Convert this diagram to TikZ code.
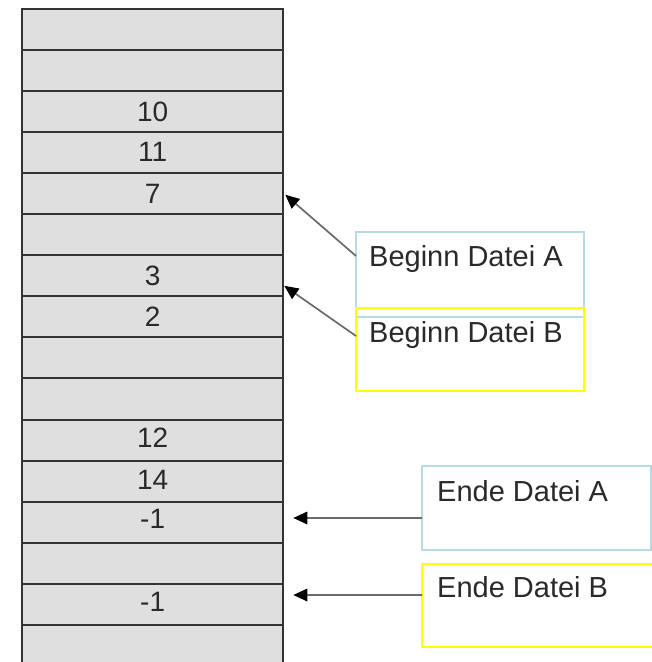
\documentclass[tikz,border=0pt]{standalone}
\usepackage{fontspec}
\setmainfont{Liberation Sans}
\usetikzlibrary{arrows.meta}
\definecolor{cellfill}{HTML}{DFDFDF}
\definecolor{cellline}{HTML}{333333}
\definecolor{boxcyan}{HTML}{B4DCE4}
\definecolor{boxyellow}{HTML}{FFFF00}
\definecolor{txt}{HTML}{2A2A2A}
\definecolor{arr}{HTML}{6A6A6A}
\begin{document}
\begin{tikzpicture}[x=1pt,y=-1pt,
  cell/.style={draw=cellline, fill=cellfill, line width=2pt, minimum width=261.3pt, minimum height=41.05pt, inner sep=0pt, outer sep=0pt, anchor=north west, text=txt, font=\fontsize{28}{30}\selectfont},
  infobox/.style={draw=#1, line width=2pt, inner sep=0pt, outer sep=0pt, anchor=north west},
  infotext/.style={anchor=base west, inner sep=0pt, text=txt, font=\fontsize{29}{32}\selectfont},
  pointer/.style={draw=arr, line width=1.7pt, -{Triangle[length=14pt,width=12.5pt,fill=black,color=black]}},
]
\useasboundingbox (0,0) rectangle (652,662);
\clip (0,0) rectangle (652,662);
\fill[white] (0,0) rectangle (652,662);
\foreach \i/\t/\dy in {0//0,1//0,2/10/1.2,3/11/-1.5,4/7/-0.2,5//0,6/3/1.5,7/2/2.8,8//0,9//0,10/12/-4,11/14/-3.3,12/-1/-6.2,13//0,14/-1/-5.5,15//0}
  \node[cell] (c\i) at (22, 9+41.05*\i) {\raisebox{-\dy pt}{\t}};
\node[infobox=boxcyan, minimum width=228pt, minimum height=85pt] (bA) at (356,232) {};
\node[infobox=boxyellow, minimum width=228pt, minimum height=83pt] (bB) at (356,308) {};
\node[infobox=boxcyan, minimum width=229pt, minimum height=84pt] (eA) at (422,466) {};
\node[infobox=boxyellow, minimum width=240pt, minimum height=83pt] (eB) at (422,564) {};
\node[infotext] (tA) at (369,266.4) {Beginn Datei A};
\node[infotext] (tB) at (369,342.1) {Beginn Datei B};
\node[infotext] (tEA) at (437,501) {Ende Datei A};
\node[infotext] (tEB) at (437,597) {Ende Datei B};
\coordinate (sA) at ([yshift=-24pt]bA.north west);
\coordinate (sB) at ([yshift=-28pt]bB.north west);
\coordinate (sEA) at ([yshift=-52pt]eA.north west);
\coordinate (sEB) at ([yshift=-31pt]eB.north west);
\draw[pointer] (sA) -- ([shift={(2,1)}]c4.east);
\draw[pointer] (sB) -- ([shift={(1,10)}]c6.east);
\draw[pointer] (sEA) -- ([xshift=10pt]c12.east |- sEA);
\draw[pointer] (sEB) -- ([xshift=10pt]c14.east |- sEB);
\end{tikzpicture}
\end{document}
